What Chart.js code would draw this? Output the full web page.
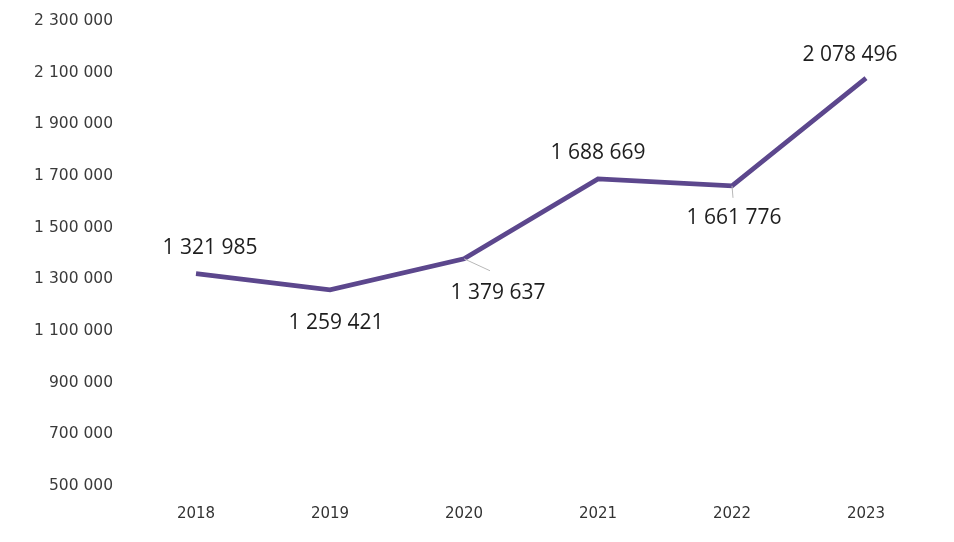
<!DOCTYPE html>
<html>
<head>
<meta charset="utf-8">
<script src="https://cdn.jsdelivr.net/npm/chart.js@4/dist/chart.umd.min.js"></script>
<style>
  html, body { margin: 0; padding: 0; background: #fff; overflow: hidden; }
  canvas { display: block; }
</style>
</head>
<body>
<canvas id="chart" width="954" height="542"></canvas>
<script>
// data
const years = ["2018", "2019", "2020", "2021", "2022", "2023"];
const values = [1321985, 1259421, 1379637, 1688669, 1661776, 2078496];
const yTicks = [500000, 700000, 900000, 1100000, 1300000, 1500000, 1700000, 1900000, 2100000, 2300000];

// label placement per point: [dx, dy, leader]
const labelPlace = [
  [14, -26, false],
  [6, 33, false],
  [34, 34, true],
  [0, -26, false],
  [2, 32, true],
  [-16, -23, false]
];

const fmt = v => String(v).replace(/\B(?=(\d{3})+(?!\d))/g, " ");

// value labels
const valueLabels = {
  id: "valueLabels",
  afterDatasetsDraw(chart) {
    const ctx = chart.ctx;
    const meta = chart.getDatasetMeta(0);
    ctx.save();
    meta.data.forEach((pt, i) => {
      const [dx, dy, leader] = labelPlace[i];
      if (leader) {
        ctx.strokeStyle = "#b8b8b8";
        ctx.lineWidth = 1;
        ctx.beginPath();
        ctx.moveTo(pt.x, pt.y);
        if (i === 2) ctx.lineTo(pt.x + 26, pt.y + 12);
        else ctx.lineTo(pt.x + 1, pt.y + 12);
        ctx.stroke();
      }
      ctx.fillStyle = "#1e1e1e";
      ctx.font = "21px 'Open Sans'";
      ctx.textAlign = "center";
      ctx.textBaseline = "middle";
      ctx.fillText(fmt(values[i]), pt.x + dx, pt.y + dy);
    });
    ctx.restore();
  }
};

new Chart(document.getElementById("chart"), {
  type: "line",
  data: {
    labels: years,
    datasets: [{
      data: values,
      borderColor: "#5c478d",
      borderWidth: 4.8,
      pointRadius: 0,
      tension: 0,
      fill: false
    }]
  },
  options: {
    responsive: false,
    animation: false,
    layout: { padding: { top: 21, right: 88, bottom: 0, left: 0 } },
    plugins: { legend: { display: false }, tooltip: { enabled: false } },
    scales: {
      x: {
        offset: false,
        grid: { display: false, drawTicks: false },
        border: { display: false },
        ticks: { padding: 19, color: "#333", font: { family: "DejaVu Sans", size: 15 }, maxRotation: 0 }
      },
      y: {
        min: yTicks[0],
        max: yTicks[yTicks.length - 1],
        grid: { display: false, drawTicks: false },
        border: { display: false },
        afterFit: s => {
          // tick padding is only meant for the horizontal gap
          s.width = 196;
          s.paddingTop = 10;
          s.paddingBottom = 10;
        },
        afterBuildTicks: s => { s.ticks = yTicks.map(v => ({ value: v })); },
        ticks: {
          padding: 83,
          color: "#3a3a3a",
          font: { family: "DejaVu Sans", size: 15.5 },
          callback: v => fmt(v)
        }
      }
    }
  },
  plugins: [valueLabels]
});
</script>
</body>
</html>
